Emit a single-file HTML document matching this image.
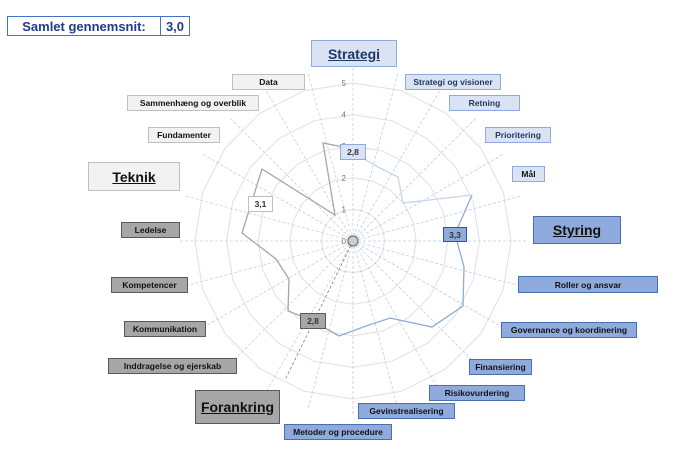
<!DOCTYPE html>
<html><head><meta charset="utf-8"><style>
body{margin:0;background:#fff;width:700px;height:451px;overflow:hidden;position:relative;font-family:"Liberation Sans",sans-serif}
.b{position:absolute;box-sizing:border-box;display:flex;align-items:center;justify-content:center;font-weight:bold;font-size:8.5px;color:#111;white-space:nowrap}
.lb{background:#dae3f3;border:1px solid #8faadc;color:#1f3864}
.mb{background:#8faadc;border:1px solid #4a6fb0}
.lg{background:#f2f2f2;border:1px solid #bfbfbf}
.dg{background:#a6a6a6;border:1px solid #595959}
.t{font-size:14px;text-decoration:underline}
</style></head><body>
<svg width="700" height="451" style="position:absolute;left:0;top:0">
<g id="g"></g>
</svg>
<script>
var cx=353,cy=241,u=31.6,n=24,s='';
for(var r=1;r<=5;r++){var p=[];for(var i=0;i<20;i++){var a=i*2*Math.PI/20;p.push((cx+r*u*Math.sin(a)).toFixed(1)+','+(cy-r*u*Math.cos(a)).toFixed(1));}s+='<polygon points="'+p.join(' ')+'" fill="none" stroke="#e0e0e0" stroke-width="1"/>';}
for(var i=0;i<n;i++){var a=i*2*Math.PI/n,R=175;var col=(i>0&&i<14)?'#bccde9':'#cfcfcf';s+='<line x1="'+cx+'" y1="'+cy+'" x2="'+(cx+R*Math.sin(a)).toFixed(1)+'" y2="'+(cy-R*Math.cos(a)).toFixed(1)+'" stroke="'+col+'" stroke-width="0.8" stroke-dasharray="3,2"/>';}
s+='<line x1="353" y1="241" x2="285" y2="380" stroke="#7f7f7f" stroke-width="0.8" stroke-dasharray="3,2"/>';
for(var r=0;r<=5;r++)s+='<text x="346" y="'+(cy-r*u+3)+'" font-size="8" fill="#777" text-anchor="end" font-family="Liberation Sans">'+r+'</text>';
s+='<polyline points="343,147 323,143 335,215 262,169 242,233 276,259 289,279 288,311 313,321 339,336" fill="none" stroke="#a6a6a6" stroke-width="1.3"/>';
s+='<polyline points="339,336 366,326 390,318 432,327 463,306 464,267 455,234 472,195" fill="none" stroke="#8faadc" stroke-width="1.3"/>';
s+='<polyline points="472,195 403,203 398,177 378,167 354,153" fill="none" stroke="#c5d4ef" stroke-width="1.3"/>';
s+='<circle cx="353" cy="241" r="5" fill="#ccc" stroke="#666" stroke-width="1"/>';
document.getElementById('g').innerHTML=s;
</script>
<div class="b" style="left:7px;top:16px;width:154px;height:20px;border:1px solid #4472c4;color:#1f3c88;font-size:13px">Samlet gennemsnit:</div>
<div class="b" style="left:160px;top:16px;width:30px;height:20px;border:1px solid #4472c4;color:#1f3c88;font-size:13px">3,0</div>
<div class="b lb t" style="left:311px;top:40px;width:86px;height:27px">Strategi</div>
<div class="b lb" style="left:405px;top:74px;width:96px;height:16px">Strategi og visioner</div>
<div class="b lb" style="left:449px;top:95px;width:71px;height:16px">Retning</div>
<div class="b lb" style="left:485px;top:127px;width:66px;height:16px">Prioritering</div>
<div class="b lb" style="left:512px;top:166px;width:33px;height:16px;color:#111">Mål</div>
<div class="b mb t" style="left:533px;top:216px;width:88px;height:28px">Styring</div>
<div class="b mb" style="left:518px;top:276px;width:140px;height:17px">Roller og ansvar</div>
<div class="b mb" style="left:501px;top:322px;width:136px;height:16px">Governance og koordinering</div>
<div class="b mb" style="left:469px;top:359px;width:63px;height:16px">Finansiering</div>
<div class="b mb" style="left:429px;top:385px;width:96px;height:16px">Risikovurdering</div>
<div class="b mb" style="left:358px;top:403px;width:97px;height:16px">Gevinstrealisering</div>
<div class="b mb" style="left:284px;top:424px;width:108px;height:16px">Metoder og procedure</div>
<div class="b dg t" style="left:195px;top:390px;width:85px;height:34px">Forankring</div>
<div class="b dg" style="left:108px;top:358px;width:129px;height:16px">Inddragelse og ejerskab</div>
<div class="b dg" style="left:124px;top:321px;width:82px;height:16px">Kommunikation</div>
<div class="b dg" style="left:111px;top:277px;width:77px;height:16px">Kompetencer</div>
<div class="b dg" style="left:121px;top:222px;width:59px;height:16px">Ledelse</div>
<div class="b lg t" style="left:88px;top:162px;width:92px;height:29px">Teknik</div>
<div class="b lg" style="left:148px;top:127px;width:72px;height:16px">Fundamenter</div>
<div class="b lg" style="left:127px;top:95px;width:132px;height:16px">Sammenhæng og overblik</div>
<div class="b lg" style="left:232px;top:74px;width:73px;height:16px">Data</div>
<div class="b lb" style="left:340px;top:144px;width:26px;height:16px;color:#333">2,8</div>
<div class="b" style="left:248px;top:196px;width:25px;height:16px;background:#fff;border:1px solid #bfbfbf;color:#333">3,1</div>
<div class="b mb" style="left:443px;top:227px;width:24px;height:15px;border-color:#2f5597;color:#333">3,3</div>
<div class="b dg" style="left:300px;top:313px;width:26px;height:16px;color:#333">2,8</div>
</body></html>
